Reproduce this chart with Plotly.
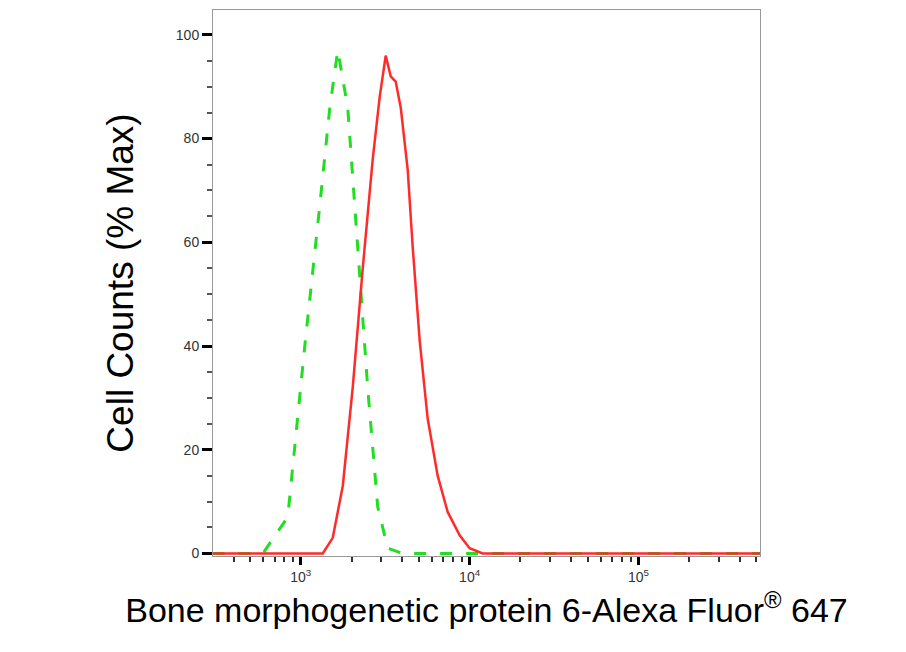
import plotly.graph_objects as go

green_x = [300, 596, 837, 1056, 1295, 1486, 1656, 1897, 2174, 2490, 2855, 3272, 4015, 550000]
green_y = [0, 0, 7, 40, 67, 86, 97, 86, 59, 32, 9, 1, 0, 0]
red_x = [300, 1349, 1546, 1773, 2031, 2328, 2667, 2932, 3184, 3409, 3649, 3907, 4297, 4603, 5063, 5643, 6467, 7412, 8730, 10000, 11945, 550000]
red_y = [0, 0, 3, 13, 32, 55, 76, 88, 96, 92, 91, 86, 74, 59, 41, 26, 15, 8, 3.5, 1, 0, 0]
x_tickvals = [1000, 10000, 100000]
x_ticktext = ["10<sup>3</sup>", "10<sup>4</sup>", "10<sup>5</sup>"]
y_tickvals = [0, 20, 40, 60, 80, 100]
x_minor = [m * d for d in [100, 1000, 10000, 100000] for m in range(2, 10)]

fig = go.Figure()
fig.add_trace(go.Scatter(x=green_x, y=green_y, mode="lines",
                         line=dict(color="#22dd22", width=3, dash="12px,14px")))
fig.add_trace(go.Scatter(x=red_x, y=red_y, mode="lines",
                         line=dict(color="#ff2a2a", width=2.5)))
fig.update_layout(
    width=906, height=652, showlegend=False,
    paper_bgcolor="white", plot_bgcolor="white",
    margin=dict(l=205, r=154, t=2, b=104, autoexpand=False),
    font=dict(family="Liberation Sans, Arial", color="black"),
)
fig.update_xaxes(type="log", range=[2.48, 5.72], tickvals=x_tickvals, ticktext=x_ticktext,
                 ticks="outside", ticklen=8, tickwidth=3, tickcolor="black",
                 minor=dict(tickvals=x_minor, ticks="outside", ticklen=5, tickcolor="#333", tickwidth=1.5),
                 showline=True, linecolor="#999", mirror=True, showgrid=False, automargin=False,
                 tickfont=dict(size=14, color="#333"),
                 title=dict(text="Bone morphogenetic protein 6-Alexa Fluor<sup>®</sup> 647",
                            font=dict(size=34), standoff=14))
fig.update_yaxes(range=[-0.5, 104.8], tickvals=y_tickvals,
                 ticks="outside", ticklen=10, tickwidth=3, tickcolor="black",
                 minor=dict(dtick=5, ticks="outside", ticklen=5, tickcolor="#555", tickwidth=1.5),
                 showline=True, linecolor="#999", mirror=True, showgrid=False, zeroline=False,
                 automargin=False,
                 tickfont=dict(size=14, color="#333"),
                 title=dict(text="Cell Counts (% Max)", font=dict(size=37), standoff=30))
fig.write_html("out.html")
